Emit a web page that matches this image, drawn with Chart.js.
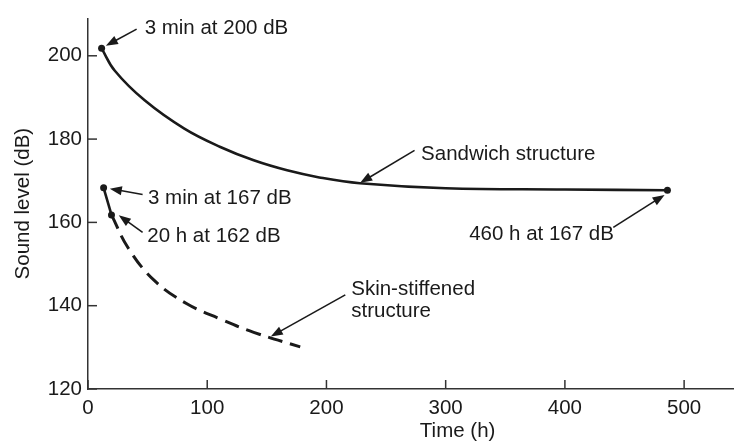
<!DOCTYPE html>
<html>
<head>
<meta charset="utf-8">
<script src="https://cdn.jsdelivr.net/npm/chart.js@4.4.0/dist/chart.umd.min.js"></script>
<style>
  body { margin: 0; background: #fff; }
  #wrap { width: 737px; height: 442px; }
</style>
</head>
<body>
<div id="wrap"><canvas id="soundChart"></canvas></div>
<script>
// tick labels
var xTicks = [0, 100, 200, 300, 400, 500];
var yTicks = [120, 140, 160, 180, 200];

// sandwich structure curve (time h, level dB)
var sandwichTime = [11.4, 22.5, 47.5, 80.8, 111, 139, 167, 194, 228, 300, 400, 486];
var sandwichLevel = [201.8, 196.4, 189.3, 182.5, 178.1, 174.9, 172.5, 170.8, 169.4, 168.2, 167.9, 167.7];

// skin-stiffened structure: solid part between the two dots, then dashed
var skinTime = [13.1, 19.7];
var skinLevel = [168.3, 161.8];
var skinDashTime = [19.7, 33.6, 55.8, 83.3, 111, 139, 178];
var skinDashLevel = [161.8, 153.9, 146.0, 140.4, 136.8, 133.6, 130.1];

// callouts, in data units
var notes = [
  { text: ['3 min at 200 dB'], x: 47.5, y: 206.7, from: [40.8, 206.4], to: [15, 202.4] },
  { text: ['3 min at 167 dB'], x: 50.3, y: 165.8, from: [45.8, 166.7], to: [18.3, 168.1] },
  { text: ['20 h at 162 dB'], x: 49.7, y: 156.7, from: [45.8, 157.6], to: [25.8, 161.7] },
  { text: ['Sandwich structure'], x: 279.4, y: 176.4, from: [273.9, 177.3], to: [228.3, 169.5] },
  { text: ['460 h at 167 dB'], x: 319.7, y: 157.1, from: [440.6, 158.8], to: [483.6, 166.6] },
  { text: ['Skin-stiffened', 'structure'], x: 220.8, y: 144.0, from: [215.8, 142.6], to: [153.3, 132.6] }
];

var FONT = '"Liberation Sans", Arial, Helvetica, sans-serif';
var INK = '#1a1a1a';
var SIZE = 20.5;

function toPoints(xs, ys) {
  return xs.map(function (x, i) { return { x: x, y: ys[i] }; });
}

var paperPlugin = {
  id: 'paper',
  beforeDraw: function (chart) {
    var ctx = chart.ctx;
    ctx.save();
    ctx.fillStyle = '#fff';
    ctx.fillRect(0, 0, chart.width, chart.height);
    ctx.restore();
  }
};

// tick marks point into the plot
var innerTicks = {
  id: 'innerTicks',
  afterDraw: function (chart) {
    var sx = chart.scales.x, sy = chart.scales.y, ctx = chart.ctx;
    ctx.save();
    ctx.strokeStyle = '#333';
    ctx.lineWidth = 1.5;
    xTicks.forEach(function (v) {
      var px = sx.getPixelForValue(v);
      ctx.beginPath();
      ctx.moveTo(px, sx.top);
      ctx.lineTo(px, sx.top - 9);
      ctx.stroke();
    });
    yTicks.forEach(function (v) {
      var py = sy.getPixelForValue(v);
      ctx.beginPath();
      ctx.moveTo(sy.right, py);
      ctx.lineTo(sy.right + 9, py);
      ctx.stroke();
    });
    ctx.restore();
  }
};

var callouts = {
  id: 'callouts',
  afterDraw: function (chart) {
    var sx = chart.scales.x, sy = chart.scales.y, ctx = chart.ctx;
    ctx.save();
    ctx.font = SIZE + 'px ' + FONT;
    ctx.fillStyle = INK;
    ctx.strokeStyle = INK;
    ctx.textAlign = 'left';
    ctx.textBaseline = 'middle';
    notes.forEach(function (n) {
      var tx = sx.getPixelForValue(n.x), ty = sy.getPixelForValue(n.y);
      n.text.forEach(function (line, i) {
        ctx.fillText(line, tx, ty + i * 22);
      });
      var x1 = sx.getPixelForValue(n.from[0]), y1 = sy.getPixelForValue(n.from[1]);
      var x2 = sx.getPixelForValue(n.to[0]), y2 = sy.getPixelForValue(n.to[1]);
      var a = Math.atan2(y2 - y1, x2 - x1);
      ctx.lineWidth = 1.6;
      ctx.beginPath();
      ctx.moveTo(x1, y1);
      ctx.lineTo(x2 - 8 * Math.cos(a), y2 - 8 * Math.sin(a));
      ctx.stroke();
      ctx.beginPath();
      ctx.moveTo(x2, y2);
      ctx.lineTo(x2 - 12 * Math.cos(a) + 4.5 * Math.sin(a), y2 - 12 * Math.sin(a) - 4.5 * Math.cos(a));
      ctx.lineTo(x2 - 12 * Math.cos(a) - 4.5 * Math.sin(a), y2 - 12 * Math.sin(a) + 4.5 * Math.cos(a));
      ctx.closePath();
      ctx.fill();
    });
    // x axis title sits right of centre in the original
    ctx.textAlign = 'center';
    ctx.fillText('Time (h)', sx.getPixelForValue(310), 431);
    ctx.restore();
  }
};

function endDots(ctx) {
  var last = ctx.dataset.data.length - 1;
  return (ctx.dataIndex === 0 || ctx.dataIndex === last) ? 3.5 : 0;
}

var ctx = document.getElementById('soundChart').getContext('2d');
var soundChart = new Chart(ctx, {
  type: 'line',
  data: {
    datasets: [
      {
        label: 'Sandwich structure',
        data: toPoints(sandwichTime, sandwichLevel),
        borderColor: INK,
        backgroundColor: INK,
        borderWidth: 2.6,
        tension: 0.4,
        pointRadius: endDots,
        pointBorderWidth: 0
      },
      {
        label: 'Skin-stiffened (solid)',
        data: toPoints(skinTime, skinLevel),
        borderColor: INK,
        backgroundColor: INK,
        borderWidth: 2.6,
        pointRadius: 3.5,
        pointBorderWidth: 0
      },
      {
        label: 'Skin-stiffened structure',
        data: toPoints(skinDashTime, skinDashLevel),
        borderColor: INK,
        borderWidth: 3,
        borderDash: [15, 8],
        tension: 0.4,
        pointRadius: 0
      }
    ]
  },
  options: {
    responsive: true,
    maintainAspectRatio: false,
    animation: false,
    layout: { padding: { top: 15, left: 0, right: 0, bottom: 0 } },
    plugins: {
      legend: { display: false },
      tooltip: { enabled: false }
    },
    scales: {
      x: {
        type: 'linear',
        min: 0,
        max: 541,
        afterBuildTicks: function (scale) {
          scale.ticks = xTicks.map(function (v) { return { value: v }; });
        },
        afterFit: function (scale) { scale.height = 53; },
        grid: { display: false, drawTicks: false },
        border: { display: true, color: '#333', width: 1.5 },
        ticks: { padding: 7, color: INK, font: { family: FONT, size: SIZE }, maxRotation: 0 }
      },
      y: {
        min: 120,
        max: 209,
        afterBuildTicks: function (scale) {
          scale.ticks = yTicks.map(function (v) { return { value: v }; });
        },
        afterFit: function (scale) { scale.width = 88; },
        grid: { display: false, drawTicks: false },
        border: { display: true, color: '#333', width: 1.5 },
        ticks: { padding: 6, color: INK, font: { family: FONT, size: SIZE } },
        title: {
          display: true,
          text: 'Sound level (dB)',
          color: INK,
          font: { family: FONT, size: SIZE },
          padding: { top: 11, bottom: 0 }
        }
      }
    }
  },
  plugins: [paperPlugin, innerTicks, callouts]
});
</script>
</body>
</html>
